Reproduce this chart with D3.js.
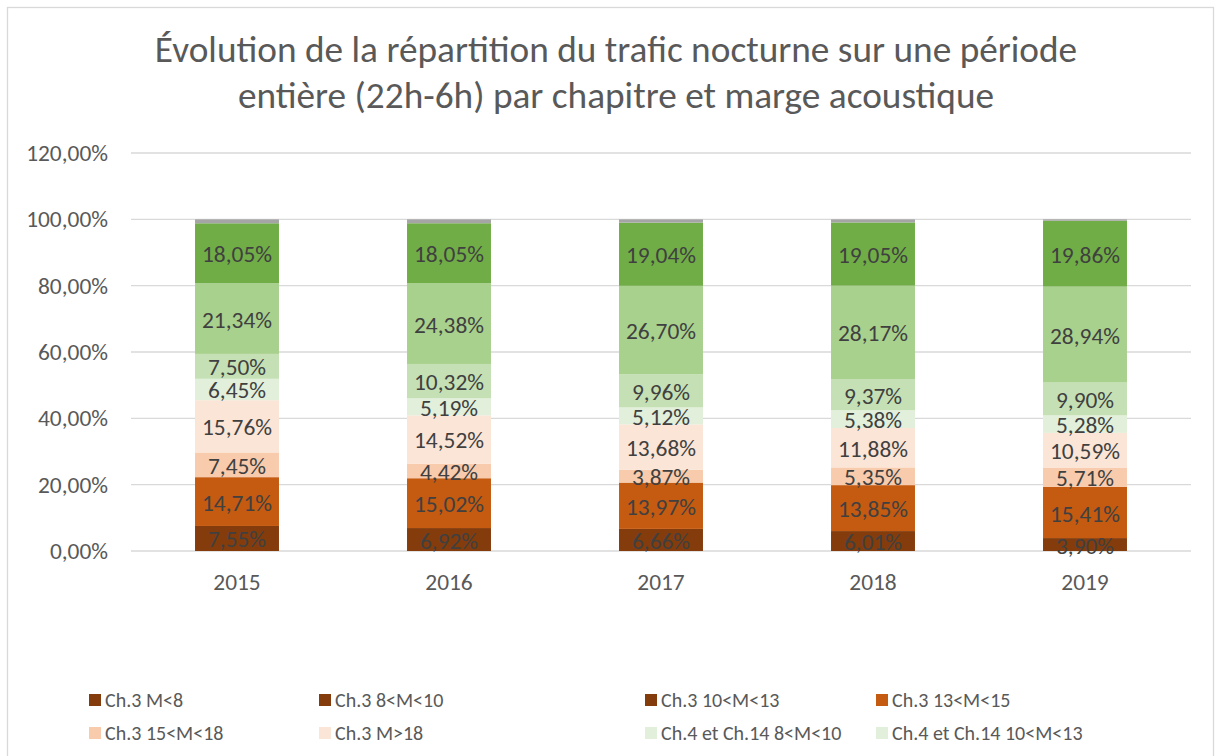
<!DOCTYPE html>
<html lang="fr">
<head>
<meta charset="UTF-8">
<title>Évolution de la répartition du trafic nocturne</title>
<style>
    body { margin: 0; background: #fff; }
    svg { display: block; font-family: Carlito, Calibri, "Liberation Sans", Arial, sans-serif; }
    .grid line { stroke: #d9d9d9; stroke-width: 1.3; }
    .tick-label { fill: #595959; font-size: 23.4px; }
    .data-label { fill: #404040; font-size: 23.4px; text-anchor: middle; dominant-baseline: central; }
    .legend-text { fill: #595959; font-size: 20px; }
    .title { fill: #595959; font-size: 37.3px; text-anchor: middle; }
</style>
</head>
<body>
<svg id="chart" width="1219" height="756"></svg>
<script src="https://d3js.org/d3.v7.min.js"></script>
<script>
    // data
    const years = ["2015", "2016", "2017", "2018", "2019"];
    const seriesNames = [
        "Ch.3 M<8", "Ch.3 8<M<10", "Ch.3 10<M<13", "Ch.3 13<M<15",
        "Ch.3 15<M<18", "Ch.3 M>18", "Ch.4 et Ch.14 8<M<10", "Ch.4 et Ch.14 10<M<13",
        "Ch.4 et Ch.14 13<M<15", "Ch.4 et Ch.14 15<M<18", "Ch.4 et Ch.14 M>18", "Autres"
    ];
    const seriesColors = [
        "#843c0c", "#843c0c", "#843c0c", "#c55a11",
        "#f8cbad", "#fbe5d6", "#e2efda", "#e2efda",
        "#c5e0b4", "#a9d18e", "#70ad47", "#a5a5a5"
    ];
    const ch3M8 = [0, 0, 0, 0, 0];
    const ch3M8_10 = [0, 0, 0, 0, 0];
    const ch3M10_13 = [7.55, 6.92, 6.66, 6.01, 3.90];
    const ch3M13_15 = [14.71, 15.02, 13.97, 13.85, 15.41];
    const ch3M15_18 = [7.45, 4.42, 3.87, 5.35, 5.71];
    const ch3M18 = [15.76, 14.52, 13.68, 11.88, 10.59];
    const ch4M8_10 = [0, 0, 0, 0, 0];
    const ch4M10_13 = [6.45, 5.19, 5.12, 5.38, 5.28];
    const ch4M13_15 = [7.50, 10.32, 9.96, 9.37, 9.90];
    const ch4M15_18 = [21.34, 24.38, 26.70, 28.17, 28.94];
    const ch4M18 = [18.05, 18.05, 19.04, 19.05, 19.86];
    const autres = [1.19, 1.18, 1.00, 0.94, 0.41];
    const seriesValues = [ch3M8, ch3M8_10, ch3M10_13, ch3M13_15, ch3M15_18, ch3M18,
        ch4M8_10, ch4M10_13, ch4M13_15, ch4M15_18, ch4M18, autres];
    const showLabel = [true, true, true, true, true, true, true, true, true, true, true, false];
    const yTicks = [0, 20, 40, 60, 80, 100, 120];

    const fmt = v => v.toFixed(2).replace(".", ",") + "%";

    const svg = d3.select("#chart");

    // chart frame
    svg.append("rect")
        .attr("x", 7.5).attr("y", 7.5)
        .attr("width", 1206).attr("height", 800)
        .attr("fill", "#fff").attr("stroke", "#d9d9d9").attr("stroke-width", 1.3);

    // title
    const title = svg.append("text").attr("class", "title");
    title.append("tspan").attr("x", 616).attr("y", 62)
        .text("Évolution de la répartition du trafic nocturne sur une période");
    title.append("tspan").attr("x", 616).attr("y", 108)
        .text("entière (22h-6h) par chapitre et marge acoustique");

    const plot = { left: 131, right: 1191, top: 153, bottom: 551 };

    const x = d3.scaleBand().domain(years)
        .range([plot.left, plot.right]).paddingInner(0.604).paddingOuter(0.302);
    const y = d3.scaleLinear().domain([0, 120]).range([plot.bottom, plot.top]);

    // gridlines
    svg.append("g").attr("class", "grid")
        .selectAll("line").data(yTicks).join("line")
        .attr("x1", plot.left).attr("x2", plot.right)
        .attr("y1", d => y(d)).attr("y2", d => y(d));

    // y labels
    svg.append("g").selectAll("text").data(yTicks).join("text")
        .attr("class", "tick-label")
        .attr("x", 108).attr("y", d => y(d))
        .attr("text-anchor", "end").attr("dominant-baseline", "central")
        .text(d => d.toFixed(2).replace(".", ",") + "%");

    // x labels
    svg.append("g").selectAll("text").data(years).join("text")
        .attr("class", "tick-label")
        .attr("x", d => x(d) + x.bandwidth() / 2).attr("y", 590)
        .attr("text-anchor", "middle")
        .text(d => d);

    // stacked bars
    const rows = years.map((yr, i) => {
        const r = { year: yr };
        seriesNames.forEach((s, k) => { r[s] = seriesValues[k][i]; });
        return r;
    });
    const stacked = d3.stack().keys(seriesNames)(rows);

    const layers = svg.append("g").selectAll("g").data(stacked).join("g")
        .attr("fill", (d, k) => seriesColors[k]);

    layers.selectAll("rect").data(d => d).join("rect")
        .attr("x", d => x(d.data.year))
        .attr("width", x.bandwidth())
        .attr("y", d => y(d[1]))
        .attr("height", d => y(d[0]) - y(d[1]));

    // data labels
    const labelGroup = svg.append("g");
    stacked.forEach((layer, k) => {
        if (!showLabel[k]) return;
        layer.forEach(d => {
            const v = d[1] - d[0];
            if (v <= 0) return;
            labelGroup.append("text")
                .attr("class", "data-label")
                .attr("x", x(d.data.year) + x.bandwidth() / 2)
                .attr("y", y((d[0] + d[1]) / 2) + 1)
                .text(fmt(v));
        });
    });

    // legend
    const legendCols = [89, 319, 645, 876];
    const legendRows = [700, 733, 766];
    const legend = svg.append("g").selectAll("g").data(seriesNames).join("g")
        .attr("transform", (d, i) => `translate(${legendCols[i % 4]},${legendRows[Math.floor(i / 4)]})`);
    legend.append("rect")
        .attr("x", 0).attr("y", -6).attr("width", 12).attr("height", 12)
        .attr("fill", (d, i) => seriesColors[i]);
    legend.append("text")
        .attr("class", "legend-text")
        .attr("x", 16).attr("y", 0)
        .attr("dominant-baseline", "central")
        .text(d => d);
</script>
</body>
</html>
